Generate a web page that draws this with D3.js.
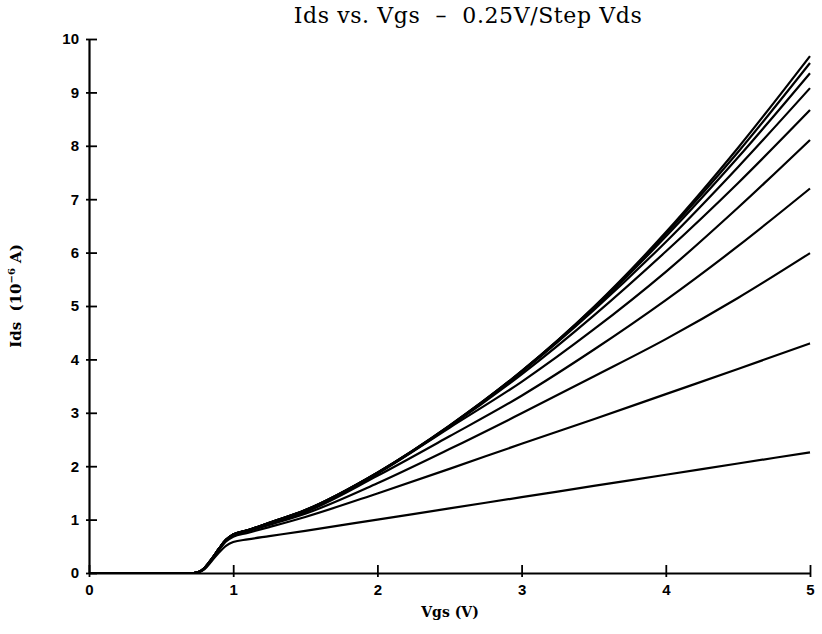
<!DOCTYPE html>
<html>
<head>
<meta charset="utf-8">
<script src="https://cdnjs.cloudflare.com/ajax/libs/d3/7.8.5/d3.min.js"></script>
<style>
  body { margin: 0; background: #fff; }
  svg { display: block; }
</style>
</head>
<body>
<div id="chartDiv"></div>
<script>
// Vgs sample points (V)
var vgs = [0, 0.7, 0.75, 0.8, 0.85, 0.9, 0.95, 1.0, 1.1, 1.25, 1.5, 2, 2.5, 3, 3.5, 4, 4.5, 5];

// Ids (10^-6 A), one array per Vds step (0.25V ... 2.5V)
var ids025 = [0, 0, 0.01, 0.07, 0.22, 0.38, 0.51, 0.58, 0.63, 0.69, 0.79, 1.00, 1.21, 1.42, 1.63, 1.84, 2.05, 2.26];
var ids050 = [0, 0, 0.01, 0.08, 0.24, 0.43, 0.59, 0.68, 0.75, 0.86, 1.05, 1.49, 1.95, 2.42, 2.88, 3.35, 3.82, 4.30];
var ids075 = [0, 0, 0.01, 0.09, 0.25, 0.44, 0.61, 0.70, 0.78, 0.90, 1.11, 1.68, 2.32, 2.99, 3.68, 4.38, 5.15, 5.99];
var ids100 = [0, 0, 0.01, 0.09, 0.26, 0.45, 0.62, 0.71, 0.79, 0.92, 1.14, 1.82, 2.56, 3.32, 4.18, 5.11, 6.12, 7.20];
var ids125 = [0, 0, 0.01, 0.09, 0.26, 0.45, 0.62, 0.71, 0.80, 0.93, 1.16, 1.86, 2.72, 3.58, 4.56, 5.64, 6.84, 8.11];
var ids150 = [0, 0, 0.01, 0.09, 0.26, 0.45, 0.62, 0.72, 0.80, 0.93, 1.17, 1.87, 2.74, 3.72, 4.82, 6.02, 7.30, 8.67];
var ids175 = [0, 0, 0.01, 0.09, 0.26, 0.45, 0.62, 0.72, 0.80, 0.94, 1.17, 1.87, 2.75, 3.76, 4.92, 6.20, 7.60, 9.08];
var ids200 = [0, 0, 0.01, 0.09, 0.26, 0.45, 0.62, 0.72, 0.80, 0.94, 1.18, 1.88, 2.75, 3.77, 4.95, 6.30, 7.78, 9.36];
var ids225 = [0, 0, 0.01, 0.09, 0.26, 0.45, 0.62, 0.72, 0.80, 0.94, 1.18, 1.88, 2.76, 3.78, 4.97, 6.35, 7.88, 9.55];
var ids250 = [0, 0, 0.01, 0.09, 0.26, 0.45, 0.62, 0.72, 0.80, 0.94, 1.18, 1.88, 2.76, 3.78, 4.98, 6.38, 7.96, 9.68];

var xTicks = [0, 1, 2, 3, 4, 5];
var yTicks = [0, 1, 2, 3, 4, 5, 6, 7, 8, 9, 10];

var titleText = "Ids vs. Vgs  \u2013  0.25V/Step Vds";
var xLabel = "Vgs (V)";

var width = 822, height = 634;
var x0 = 89, x1 = 810, yBot = 573, yTop = 39;

var svg = d3.select("#chartDiv").append("svg")
  .attr("width", width)
  .attr("height", height);

var xScale = d3.scaleLinear().domain([0, 5]).range([x0, x1]);
var yScale = d3.scaleLinear().domain([0, 10]).range([yBot, yTop]);

// tick lines added by hand below so they cross the axis like the plotter did
var xAxis = d3.axisBottom(xScale).tickValues(xTicks).tickSize(0).tickPadding(11)
  .tickFormat(d3.format("d"));
var yAxis = d3.axisLeft(yScale).tickValues(yTicks).tickSize(0).tickPadding(10)
  .tickFormat(d3.format("d"));

var gx = svg.append("g").attr("transform", "translate(0," + yBot + ")").call(xAxis);
var gy = svg.append("g").attr("transform", "translate(" + x0 + ",0)").call(yAxis);

[gx, gy].forEach(function(g){
  g.select(".domain").attr("stroke", "#000").attr("stroke-width", 2.2);
  g.selectAll("text")
    .attr("fill", "#000")
    .style("font-family", "'Liberation Sans', Arial, sans-serif")
    .style("font-weight", "bold")
    .style("font-size", "15px");
});

gx.selectAll(".tick").append("line")
  .attr("y1", -8).attr("y2", 4)
  .attr("stroke", "#000").attr("stroke-width", 1.8);
gy.selectAll(".tick").append("line")
  .attr("x1", -3).attr("x2", 8)
  .attr("stroke", "#000").attr("stroke-width", 1.8);

// curves
var series = [ids025, ids050, ids075, ids100, ids125, ids150, ids175, ids200, ids225, ids250];

var line = d3.line()
  .x(function(d){ return xScale(d[0]); })
  .y(function(d){ return yScale(d[1]); })
  .curve(d3.curveMonotoneX);

svg.append("g").selectAll("path")
  .data(series)
  .enter()
  .append("path")
  .attr("d", function(s){ return line(vgs.map(function(v, i){ return [v, s[i]]; })); })
  .attr("fill", "none")
  .attr("stroke", "#000")
  .attr("stroke-width", 2.2)
  .attr("stroke-linejoin", "round");

// title
svg.append("text")
  .attr("x", 468)
  .attr("y", 23)
  .attr("text-anchor", "middle")
  .style("font-family", "'DejaVu Serif', serif")
  .style("font-size", "22px")
  .style("letter-spacing", "0.6px")
  .style("white-space", "pre")
  .attr("fill", "#000")
  .text(titleText);

// x label
svg.append("text")
  .attr("x", 450)
  .attr("y", 617)
  .attr("text-anchor", "middle")
  .style("font-family", "'DejaVu Serif', serif")
  .style("font-weight", "bold")
  .style("font-size", "14px")
  .style("white-space", "pre")
  .attr("fill", "#000")
  .text(xLabel);

// y label with superscript
var yl = svg.append("text")
  .attr("transform", "translate(21,296) rotate(-90)")
  .attr("text-anchor", "middle")
  .style("font-family", "'DejaVu Serif', serif")
  .style("font-weight", "bold")
  .style("font-size", "15px")
  .style("white-space", "pre")
  .attr("fill", "#000");
yl.append("tspan").text("Ids  (10");
yl.append("tspan").attr("dy", -6).style("font-size", "10px").text("\u22126");
yl.append("tspan").attr("dy", 6).text(" A)");
</script>
</body>
</html>
